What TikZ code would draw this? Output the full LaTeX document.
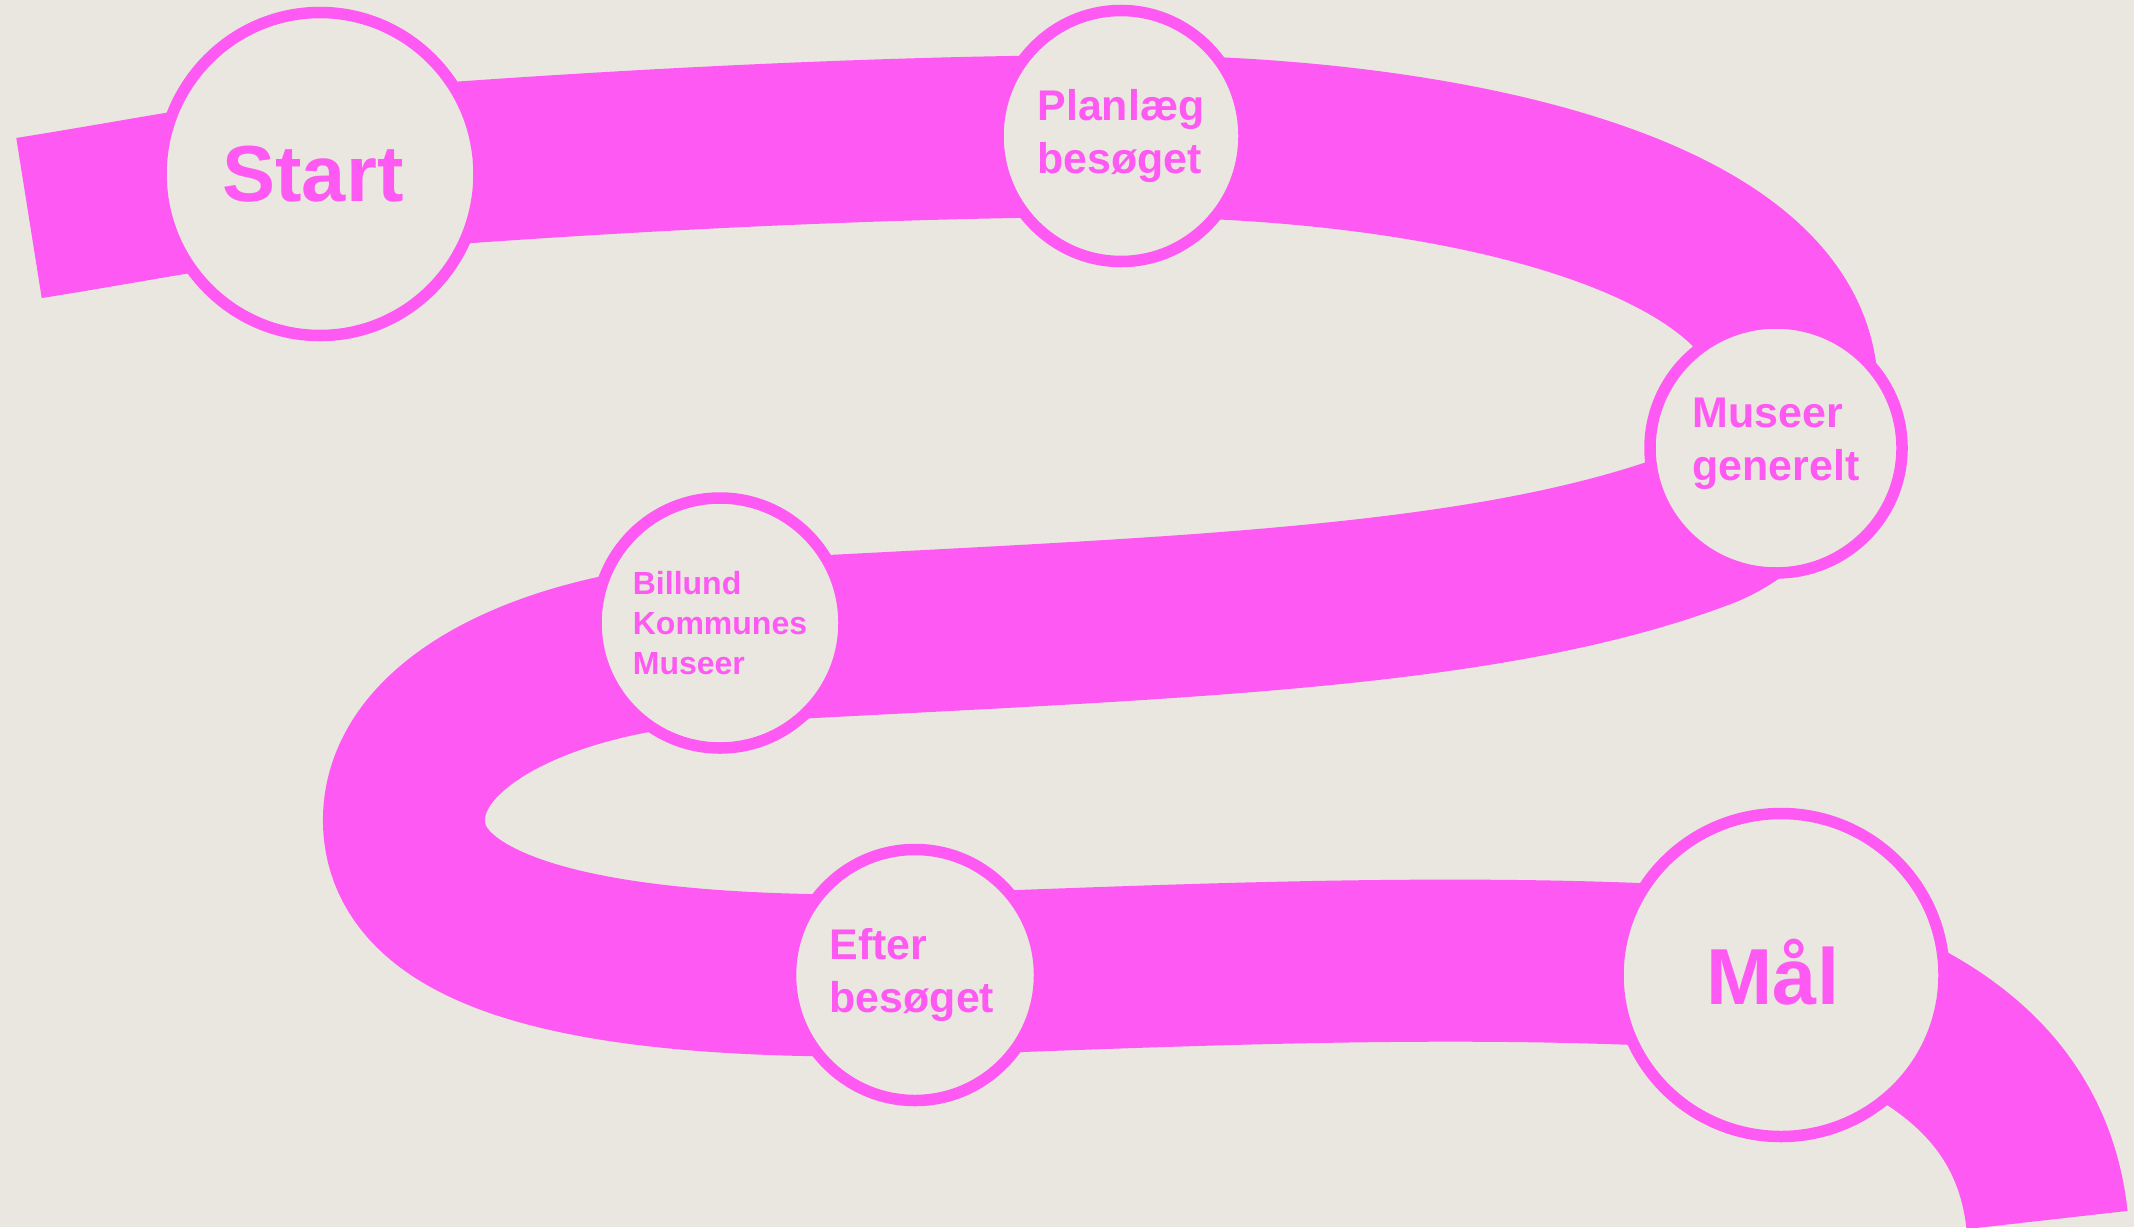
\documentclass[tikz,border=0pt]{standalone}
\usepackage{fontspec}
\setmainfont{Liberation Sans}
\usetikzlibrary{backgrounds}
\definecolor{pink}{RGB}{255,89,243}
\definecolor{paper}{RGB}{234,230,224}
\tikzset{
  road/.style={draw=pink, line width=1.62cm, line cap=butt},
  ring/.style={draw=pink, fill=paper, line width=0.115cm},
  bigtxt/.style={text=pink, font=\fontsize{22.6}{27}\selectfont\bfseries},
  midtxt/.style={text=pink, align=left, font=\fontsize{12.2}{15.1}\selectfont\bfseries},
  smalltxt/.style={text=pink, align=left, font=\fontsize{9.1}{11.4}\selectfont\bfseries},
}
\begin{document}
\begin{tikzpicture}[x=0.01cm, y=-0.01cm]
  \useasboundingbox (0,0) rectangle (2134,1227);

  % the stops
  \filldraw[ring] (320,174) ellipse (159 and 161.5);
  \node[bigtxt, xshift=-0.07cm] (start) at (320,174) {Start};

  \filldraw[ring] (1121,136) ellipse (123 and 125.5);
  \node[midtxt] (plan) at (1121,136) {Planlæg\\besøget};

  \filldraw[ring] (1776,448) ellipse (126 and 125);
  \node[midtxt] (museer) at (1776,444) {Museer\\generelt};

  \filldraw[ring] (720,623) ellipse (124 and 125);
  \node[smalltxt] (billund) at (720,623) {Billund\\Kommunes\\Museer};

  \filldraw[ring] (915,975) ellipse (124.5 and 125.5);
  \node[midtxt] (efter) at (912,975) {Efter\\besøget};

  \filldraw[ring] (1781,975) ellipse (163 and 161.5);
  \node[bigtxt, xshift=-0.08cm] (maal) at (1781,972) {Mål};

  % ends and bends of the road
  \coordinate (roadin) at (29,218);
  \coordinate (bendR) at (1797,392);
  \coordinate (midR) at (1700,529);
  \coordinate (midL) at (720,642);
  \coordinate (bendL) at (404,820);
  \coordinate (roadout) at (2047,1220);

  % the road behind the stops
  \begin{scope}[on background layer]
    \fill[paper] (0,0) rectangle (2134,1227);
    \draw[road] (roadin) .. controls (130,202) and (230,182) .. (start.center)
      .. controls (600,150) and (900,136) .. (plan.center)
      .. controls (1450,136) and (1797,215) .. (bendR)
      .. controls (1797,450) and (1758,508) .. (midR)
      .. controls (1480,612) and (1150,618) .. (midL)
      .. controls (550,652) and (404,720) .. (bendL)
      .. controls (404,950) and (640,980) .. (efter.center)
      .. controls (1190,965) and (1500,950) .. (maal.center)
      .. controls (1920,1010) and (2032,1080) .. (roadout);
  \end{scope}
\end{tikzpicture}
\end{document}
